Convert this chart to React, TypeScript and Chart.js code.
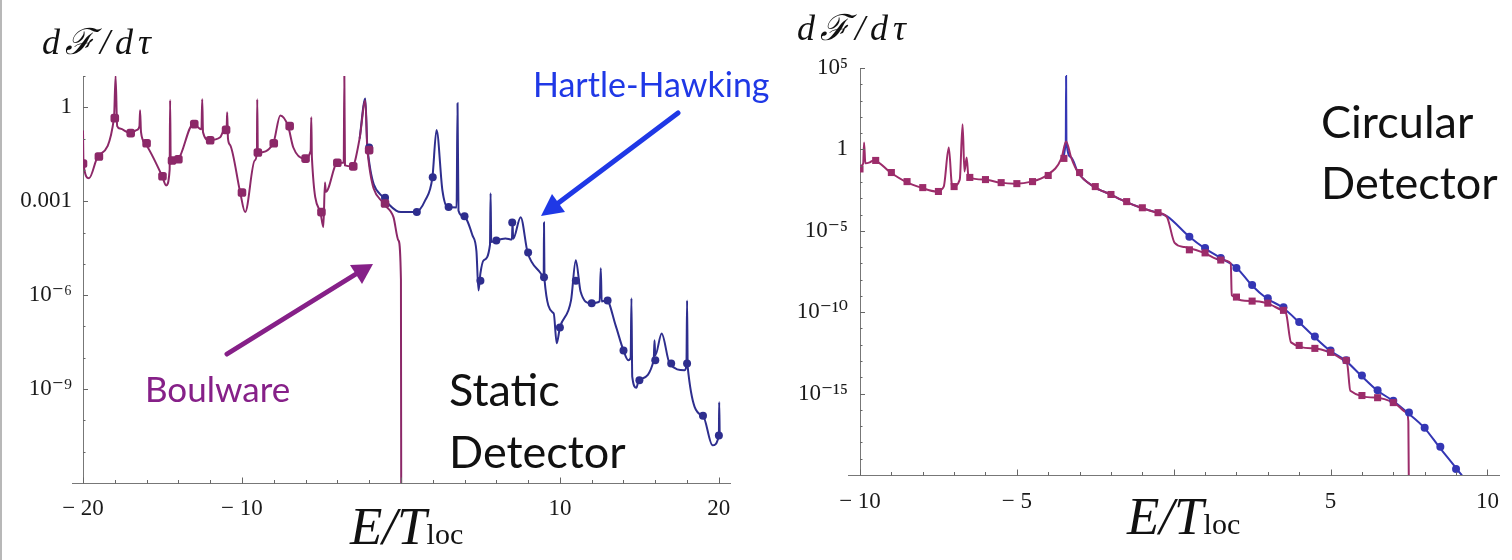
import React, { useEffect, useRef } from "react";
import { Chart, registerables } from "chart.js";

Chart.register(...registerables);

// ---------------- Static detector (left panel) ----------------
const staticBoulwareX = [-20.0, -19.97, -19.62, -19.06, -18.05, -17.95, -17.85, -17.67, -17.04, -16.6, -16.45, -16.41, -16.35, -16.09, -15.02, -14.77, -14.55, -14.52, -14.48, -14.33, -14.02, -13.07, -12.55, -12.5, -12.45, -12.06, -11.37, -11.12, -10.96, -10.93, -10.88, -10.74, -10.11, -9.8, -9.2, -9.06, -9.04, -9.0, -8.03, -7.59, -7.1, -6.77, -6.08, -5.68, -5.64, -5.6, -5.07, -4.88, -4.78, -4.72, -4.0, -3.6, -3.56, -3.52, -3.06, -2.6, -2.24, -2.11, -1.1, -0.47, -0.16, 0.0, 0.02];
const staticBoulwareY = [0.18, 0.016, 0.0054, 0.027, 0.45, 10, 0.25, 0.21, 0.15, 0.19, 0.25, 0.8, 0.16, 0.071, 0.0063, 0.0032, 0.01, 1.7, 0.016, 0.02, 0.022, 0.29, 0.2, 1.8, 0.16, 0.089, 0.11, 0.19, 0.25, 0.69, 0.1, 0.062, 0.0019, 0.00045, 0.02, 0.036, 1.8, 0.036, 0.071, 0.55, 0.25, 0.052, 0.023, 0.04, 0.48, 0.025, 0.00045, 0.00015, 0.004, 0.002, 0.017, 0.017, 10, 0.014, 0.013, 0.1, 1.66, 0.043, 0.00085, 0.00031, 5.6e-5, 3.2e-6, 1e-14];
const staticBoulwareMarkX = [-20, -19, -18, -17, -16, -15, -14.4, -14, -13, -12, -11, -10, -9, -8, -7, -6, -5, -4, -3, -2, -1];
const staticBoulwareMarkY = [0.016, 0.027, 0.45, 0.15, 0.071, 0.0063, 0.02, 0.022, 0.29, 0.089, 0.19, 0.0019, 0.036, 0.071, 0.25, 0.023, 0.00045, 0.017, 0.013, 0.043, 0.00085];

const staticHartleX = [-2.6, -2.24, -2.11, -1.1, -0.3, 0.0, 0.92, 1.54, 1.98, 2.24, 2.61, 2.93, 3.5, 3.56, 3.62, 3.94, 4.5, 4.75, 4.88, 5.0, 5.2, 5.6, 5.64, 5.68, 5.95, 6.58, 6.98, 7.02, 7.06, 7.53, 7.97, 8.79, 8.98, 9.0, 9.03, 9.61, 9.8, 10.0, 10.7, 11.0, 11.3, 11.94, 12.5, 12.57, 12.63, 12.95, 13.5, 14.0, 14.3, 14.45, 14.5, 14.55, 14.81, 14.96, 15.9, 15.95, 16.0, 16.4, 16.9, 17.85, 17.96, 18.0, 18.04, 19.0, 19.6, 20.0, 20.02, 20.05];
const staticHartleY = [0.1, 1.9, 0.052, 0.0013, 0.0005, 0.00045, 0.00045, 0.0011, 0.0058, 0.19, 0.0022, 0.00065, 0.00063, 1.35, 0.0005, 0.00033, 8.1e-5, 2.5e-5, 1.4e-6, 5e-6, 1.3e-5, 4e-5, 0.0018, 5e-5, 5.6e-5, 6.5e-5, 6e-5, 0.00021, 6.3e-5, 0.00031, 2.3e-5, 5e-6, 3.7e-6, 0.00021, 3.2e-6, 2.6e-7, 2.9e-8, 9.3e-8, 6.8e-7, 1.3e-5, 1.3e-6, 5.5e-7, 6.3e-7, 7.2e-6, 6.3e-7, 6.8e-7, 1.1e-7, 1.7e-8, 8.3e-9, 1e-8, 7.9e-7, 2.5e-9, 1.1e-9, 1.9e-9, 8.3e-9, 3.6e-8, 1.2e-8, 6e-8, 6.6e-9, 4e-9, 6e-9, 6.8e-7, 5e-9, 1.4e-10, 1.6e-11, 3.3e-11, 3.8e-10, 4e-11];
const staticHartleMarkX = [-2, -1, 1, 2, 3, 4, 5, 6, 7, 8, 9, 10, 11, 12, 13, 14, 15, 16, 17, 18, 19, 20];
const staticHartleMarkY = [0.052, 0.0013, 0.00045, 0.0058, 0.00065, 0.00033, 2.9e-6, 5.6e-5, 0.00021, 2.3e-5, 3.7e-6, 9.3e-8, 2.9e-6, 5.5e-7, 6.8e-7, 1.7e-8, 1.9e-9, 8.3e-9, 6.6e-9, 6.6e-9, 1.4e-10, 3.3e-11];

const staticXTicks = [-20, -10, 10, 20];
const staticXTickLabels = ["\u2212 20", "\u2212 10", "10", "20"];
const staticXMajorMarks = [-20, -10, 0, 10, 20];
const staticXMinorMarks = [-18, -16, -14, -12, -8, -6, -4, -2, 2, 4, 6, 8, 12, 14, 16, 18];
const staticYTicks = [1e-9, 1e-6, 1e-3, 1];
const staticYTickLabels = ["10\u207B\u2079", "10\u207B\u2076", "0.001", "1"];
const staticYMinorMarks = [1e-11, 1e-10, 1e-8, 1e-7, 1e-5, 1e-4, 1e-2, 1e-1, 10];

// ---------------- Circular detector (right panel) ----------------
const circularBoulwareX = [-10.09, -9.9, -9.87, -9.83, -9.69, -9.56, -9.03, -8.55, -8.05, -7.55, -7.33, -7.17, -7.07, -7.04, -6.82, -6.73, -6.67, -6.6, -6.54, -6.04, -5.53, -5.06, -4.53, -4.06, -3.58, -3.43, -3.27, -3.05, -2.55, -2.01, -1.54, -1.04, -0.53, -0.22, 0.03, 0.35, 0.97, 1.51, 1.82, 1.85, 2.45, 2.96, 3.46, 3.58, 3.74, 4.47, 4.97, 5.44, 5.53, 5.63, 6.48, 7.01, 7.42, 7.48, 7.5];
const circularBoulwareY = [0.078, 0.13, 2.7, 0.14, 0.16, 0.21, 0.038, 0.0105, 0.0045, 0.0026, 0.0052, 1.3, 0.0063, 0.0052, 0.014, 35, 0.044, 0.32, 0.019, 0.014, 0.0091, 0.0079, 0.0105, 0.025, 0.28, 3.1, 0.32, 0.038, 0.0052, 0.0017, 0.00062, 0.00026, 0.00013, 7.2e-5, 1.8e-6, 1.0e-6, 4.4e-7, 1.6e-7, 1.0e-7, 1.1e-9, 4.8e-10, 3.6e-10, 1.3e-10, 8.7e-11, 1.4e-12, 6.0e-13, 3.4e-13, 1.1e-13, 7.1e-14, 1.5e-15, 5.6e-16, 2.8e-16, 6.8e-17, 2e-17, 1e-22];
const circularBoulwareMarkX = [-10, -9.5, -9, -8.5, -8, -7.5, -7, -6.5, -6, -5.5, -5, -4.5, -4, -3.5, -3, -2.5, -2, -1.5, -1, -0.5, 0.5, 1, 1.5, 2, 2.5, 3, 3.5, 4, 4.5, 5, 5.5, 6, 6.5, 7];
const circularBoulwareMarkY = [0.063, 0.21, 0.038, 0.0105, 0.0045, 0.0026, 0.0052, 0.019, 0.014, 0.0091, 0.0079, 0.0105, 0.025, 0.28, 0.038, 0.0052, 0.0017, 0.00062, 0.00026, 0.00013, 6.8e-7, 4.4e-7, 1.6e-7, 8.5e-10, 4.8e-10, 3.6e-10, 1.3e-10, 9.1e-13, 6.0e-13, 3.4e-13, 1.1e-13, 7.6e-16, 5.6e-16, 2.8e-16];

const circularHartleX = [-3.58, -3.44, -3.43, -3.42, -3.27, -3.05, -2.55, -2.01, -1.54, -1.04, -0.53, -0.22, 0.5, 0.97, 1.5, 2.01, 2.48, 2.96, 3.46, 3.99, 4.47, 4.97, 5.47, 5.97, 6.48, 6.98, 7.45, 7.99, 8.46, 9.03, 9.2];
const circularHartleY = [0.28, 3.1, 3.2e4, 3.1, 0.32, 0.038, 0.0052, 0.0017, 0.00062, 0.00026, 0.00013, 7.9e-5, 4.3e-6, 8.9e-7, 2.1e-7, 5.2e-8, 4.7e-9, 7.2e-10, 2.0e-10, 2.5e-11, 3.2e-12, 4.5e-13, 1.1e-13, 1.3e-14, 1.6e-15, 3.7e-16, 6.8e-17, 7.9e-18, 5.4e-19, 2.3e-20, 8.7e-21];
const circularHartleMarkX = [0.5, 1, 1.5, 2, 2.5, 3, 3.5, 4, 4.5, 5, 5.5, 6, 6.5, 7, 7.5, 8, 8.5, 9];
const circularHartleMarkY = [4.3e-6, 8.9e-7, 2.1e-7, 5.2e-8, 4.7e-9, 7.2e-10, 2.0e-10, 2.5e-11, 3.2e-12, 4.5e-13, 1.1e-13, 1.3e-14, 1.6e-15, 3.7e-16, 6.8e-17, 7.9e-18, 5.4e-19, 2.3e-20];

const circularXTicks = [-10, -5, 5, 10];
const circularXTickLabels = ["\u2212 10", "\u2212 5", "5", "10"];
const circularXMajorMarks = [-10, -5, 0, 5, 10];
const circularXMinorMarks = [-9, -8, -7, -6, -4, -3, -2, -1, 1, 2, 3, 4, 6, 7, 8, 9];
const circularYTicks = [1e-15, 1e-10, 1e-5, 1, 1e5];
const circularYTickLabels = ["10\u207B\u00B9\u2075", "10\u207B\u00B9\u2070", "10\u207B\u2075", "1", "10\u2075"];
const circularYMinorMarks = [1e-19, 1e-18, 1e-17, 1e-16, 1e-14, 1e-13, 1e-12, 1e-11, 1e-9, 1e-8, 1e-7, 1e-6, 1e-4, 1e-3, 1e-2, 1e-1, 10, 100, 1e3, 1e4];

// ---------------- helpers ----------------
const zip = (xs: number[], ys: number[]) => xs.map((x, i) => ({ x, y: ys[i] }));
const SERIF = "'Liberation Serif', 'DejaVu Serif', 'Times New Roman', serif";
const AXIS_COLOR = "#777";

const innerTicks = {
  id: "innerTicks",
  afterDatasetsDraw(chart: any, _args: any, opts: any) {
    if (!opts || !opts.xMajor) return;
    const xs = chart.scales.x;
    const ys = chart.scales.y;
    const ctx = chart.ctx;
    const axisY = Math.round(ys.bottom) + 0.5;
    const axisX = xs.getPixelForValue(xs.min);
    ctx.save();
    ctx.lineWidth = 1;
    ctx.strokeStyle = AXIS_COLOR;
    const seg = (x1: number, y1: number, x2: number, y2: number) => {
      ctx.beginPath();
      ctx.moveTo(x1, y1);
      ctx.lineTo(x2, y2);
      ctx.stroke();
    };
    // the horizontal axis runs a little past the vertical one on the left
    seg(axisX - opts.leftOverhang, axisY, axisX, axisY);
    ctx.strokeStyle = "#666";
    opts.xMajor.forEach((v: number) => {
      const p = Math.round(xs.getPixelForValue(v)) + 0.5;
      seg(p, axisY, p, axisY - 6);
    });
    opts.xMinor.forEach((v: number) => {
      const p = Math.round(xs.getPixelForValue(v)) + 0.5;
      seg(p, axisY, p, axisY - 3.5);
    });
    opts.yMajor.forEach((v: number) => {
      const p = Math.round(ys.getPixelForValue(v)) + 0.5;
      seg(axisX, p, axisX + 5, p);
    });
    opts.yMinor.forEach((v: number) => {
      const p = Math.round(ys.getPixelForValue(v)) + 0.5;
      seg(axisX, p, axisX + 2.5, p);
    });
    ctx.restore();
  },
};

function lineDs(data: any[], color: string, width = 2) {
  return { data, showLine: true, borderColor: color, borderWidth: width, pointRadius: 0, cubicInterpolationMode: "monotone", fill: false };
}
function markDs(data: any[], color: string, style: string, radius: number) {
  return { data, showLine: false, backgroundColor: color, borderColor: color, borderWidth: 0, pointStyle: style, pointRadius: radius };
}

function makeConfig(p: any): any {
  return {
    type: "scatter",
    data: { datasets: p.datasets },
    plugins: [innerTicks],
    options: {
      animation: false,
      responsive: true,
      maintainAspectRatio: false,
      events: [],
      layout: { padding: p.padding },
      plugins: {
        legend: { display: false },
        tooltip: { enabled: false },
        innerTicks: p.marks,
      },
      scales: {
        x: {
          type: "linear",
          min: p.xMin,
          max: p.xMax,
          bounds: "data",
          position: "bottom",
          grid: { display: false, drawTicks: false },
          border: { display: true, color: AXIS_COLOR, width: 1 },
          afterBuildTicks: (s: any) => {
            s.ticks = p.xTicks.map((v: number) => ({ value: v }));
          },
          afterFit: (s: any) => {
            s.height = 40;
          },
          ticks: {
            autoSkip: false,
            maxRotation: 0,
            minRotation: 0,
            padding: p.xPad,
            color: "#1a1a1a",
            font: { family: SERIF, size: 23 },
            callback: (_v: any, i: number) => p.xLabels[i],
          },
        },
        y: {
          type: "logarithmic",
          min: p.yMin,
          max: p.yMax,
          bounds: "data",
          position: "left",
          grid: { display: false, drawTicks: false },
          border: { display: true, color: AXIS_COLOR, width: 1 },
          afterBuildTicks: (s: any) => {
            s.ticks = p.yTicks.map((v: number) => ({ value: v }));
          },
          afterFit: (s: any) => {
            s.width = p.yWidth;
          },
          ticks: {
            autoSkip: false,
            padding: p.yPad,
            color: "#1a1a1a",
            font: { family: SERIF, size: 23 },
            callback: (_v: any, i: number) => p.yLabels[i],
          },
        },
      },
    },
  };
}

const PURPLE_L = "#8c2868";
const BLUE_L = "#2e2e8e";
const PURPLE_R = "#9c2c6a";
const BLUE_R = "#3436b4";

export default function App() {
  const leftRef = useRef<HTMLCanvasElement>(null);
  const rightRef = useRef<HTMLCanvasElement>(null);

  useEffect(() => {
    const left = new Chart(
      leftRef.current as HTMLCanvasElement,
      makeConfig({
        padding: { left: 13, right: 30, top: 76, bottom: 37 },
        yWidth: 70,
        xMin: -20,
        xMax: 20.7,
        yMin: 1e-12,
        yMax: 10,
        xTicks: staticXTicks,
        xLabels: staticXTickLabels,
        yTicks: staticYTicks,
        yLabels: staticYTickLabels,
        xPad: 12,
        yPad: 11,
        marks: { leftOverhang: 11, xMajor: staticXMajorMarks, xMinor: staticXMinorMarks, yMajor: staticYTicks, yMinor: staticYMinorMarks },
        datasets: [
          markDs(zip(staticBoulwareMarkX, staticBoulwareMarkY), PURPLE_L, "rectRounded", 5),
          markDs(zip(staticHartleMarkX, staticHartleMarkY), BLUE_L, "circle", 4),
          lineDs(zip(staticBoulwareX, staticBoulwareY), PURPLE_L),
          lineDs(zip(staticHartleX, staticHartleY), BLUE_L),
        ],
      })
    );
    const right = new Chart(
      rightRef.current as HTMLCanvasElement,
      makeConfig({
        padding: { left: 20, right: 2, top: 68, bottom: 45 },
        yWidth: 80,
        xMin: -10,
        xMax: 10.4,
        yMin: 1e-20,
        yMax: 1e5,
        xTicks: circularXTicks,
        xLabels: circularXTickLabels,
        yTicks: circularYTicks,
        yLabels: circularYTickLabels,
        xPad: 13,
        yPad: 12,
        marks: { leftOverhang: 12, xMajor: circularXMajorMarks, xMinor: circularXMinorMarks, yMajor: circularYTicks, yMinor: circularYMinorMarks },
        datasets: [
          markDs(zip(circularBoulwareMarkX, circularBoulwareMarkY), PURPLE_R, "rect", 5),
          markDs(zip(circularHartleMarkX, circularHartleMarkY), BLUE_R, "circle", 4),
          lineDs(zip(circularBoulwareX, circularBoulwareY), PURPLE_R),
          lineDs(zip(circularHartleX, circularHartleY), BLUE_R),
        ],
      })
    );
    return () => {
      left.destroy();
      right.destroy();
    };
  }, []);

  const abs = (s: any): any => ({ position: "absolute", whiteSpace: "nowrap", lineHeight: 1, ...s });
  const sans = "Lato, 'Open Sans', sans-serif";
  const mathTitle = { fontFamily: SERIF, fontStyle: "italic", fontSize: 36, letterSpacing: 5, color: "#111" };
  const xTitle = { fontFamily: SERIF, fontStyle: "italic", fontSize: 53, color: "#111" };

  return (
    <div style={{ position: "fixed", left: 0, top: 0, width: 1512, height: 560, background: "#fff", overflow: "hidden" }}>
      <div style={{ position: "absolute", left: 0, top: 0, width: 2, height: 560, background: "#b8b8b8" }} />
      <div style={{ position: "absolute", left: 0, top: 0, width: 760, height: 560 }}>
        <canvas ref={leftRef} />
      </div>
      <div style={{ position: "absolute", left: 760, top: 0, width: 752, height: 560 }}>
        <canvas ref={rightRef} />
      </div>

      {/* axis titles */}
      <div style={abs({ left: 42, top: 24, ...mathTitle })}>
        d{"\u2131"}/d{"\u03C4"}
      </div>
      <div style={abs({ left: 797, top: 10, ...mathTitle })}>
        d{"\u2131"}/d{"\u03C4"}
      </div>
      <div style={abs({ left: 350, top: 500, ...xTitle })}>
        E/T<span style={{ fontStyle: "normal", fontSize: 30 }}>loc</span>
      </div>
      <div style={abs({ left: 1127, top: 490, ...xTitle })}>
        E/T<span style={{ fontStyle: "normal", fontSize: 30 }}>loc</span>
      </div>

      {/* annotations */}
      <div style={abs({ left: 533, top: 67, fontFamily: sans, fontSize: 34, color: "#1f38e6" })}>Hartle-Hawking</div>
      <div style={abs({ left: 145, top: 371, fontFamily: sans, fontSize: 35, color: "#862088" })}>Boulware</div>
      <div style={abs({ left: 449, top: 367, fontFamily: sans, fontSize: 45, color: "#111" })}>Static</div>
      <div style={abs({ left: 449, top: 429, fontFamily: sans, fontSize: 45, color: "#111" })}>Detector</div>
      <div style={abs({ left: 1321, top: 99, fontFamily: sans, fontSize: 45, color: "#111" })}>Circular</div>
      <div style={abs({ left: 1321, top: 160, fontFamily: sans, fontSize: 45, color: "#111" })}>Detector</div>

      <svg width={1512} height={560} style={{ position: "absolute", left: 0, top: 0, pointerEvents: "none" }}>
        <line x1={678} y1={113} x2={557} y2={204} stroke="#1f38e6" strokeWidth={5} strokeLinecap="round" />
        <polygon points="541,216 552,194 565,212" fill="#1f38e6" />
        <line x1={227} y1={354} x2={356} y2={274} stroke="#862088" strokeWidth={5} strokeLinecap="round" />
        <polygon points="373,264 350,265 362,284" fill="#862088" />
      </svg>
    </div>
  );
}
